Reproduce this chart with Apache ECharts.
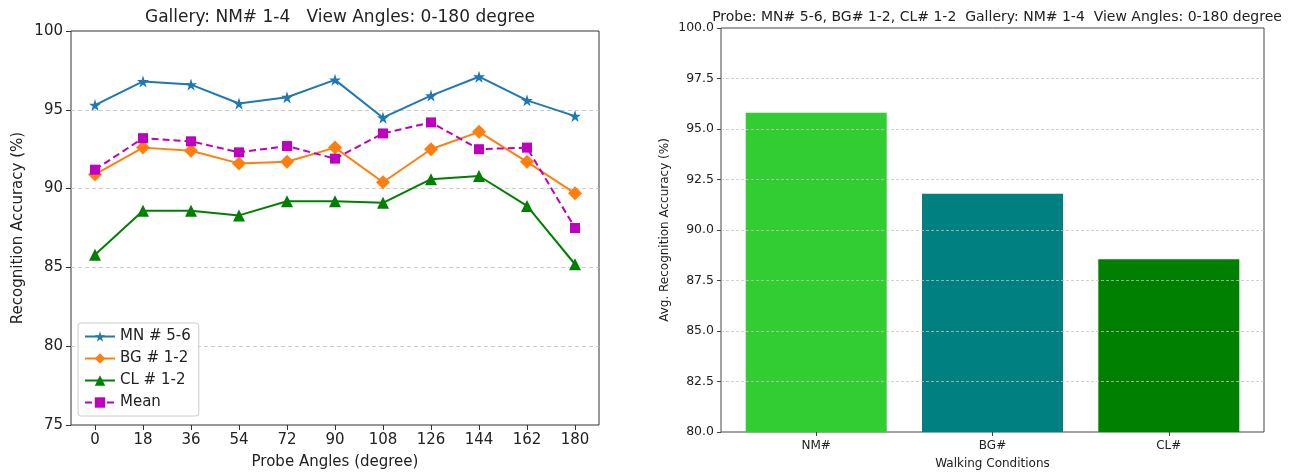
<!DOCTYPE html>
<html>
<head>
<meta charset="utf-8">
<script src="https://cdn.jsdelivr.net/npm/echarts@6/dist/echarts.min.js"></script>
<style>
  html, body { margin: 0; padding: 0; background: #fff; }
  #chart { width: 1303px; height: 475px; }
</style>
</head>
<body>
<div id="chart"></div>
<script>
// left panel: accuracy per probe angle
const angles = [0, 18, 36, 54, 72, 90, 108, 126, 144, 162, 180];
const mnVals = [95.3, 96.8, 96.6, 95.4, 95.8, 96.9, 94.5, 95.9, 97.1, 95.6, 94.6];
const bgVals = [90.9, 92.6, 92.4, 91.6, 91.7, 92.6, 90.4, 92.5, 93.6, 91.7, 89.7];
const clVals = [85.8, 88.6, 88.6, 88.3, 89.2, 89.2, 89.1, 90.6, 90.8, 88.9, 85.2];
const meanVals = [91.2, 93.2, 93.0, 92.3, 92.7, 91.9, 93.5, 94.2, 92.5, 92.6, 87.5];

// right panel: average per walking condition
const conditions = ['NM#', 'BG#', 'CL#'];
const avgVals = [95.8, 91.8, 88.55];
const barColors = ['#32cd32', '#008080', '#008000'];
const barTicks = [82.5, 85, 87.5, 90, 92.5, 95, 97.5];

const font = 'DejaVu Sans';
const star = 'path://M50,0 L61,35 L98,35 L68,57 L79,91 L50,70 L21,91 L32,57 L2,35 L39,35 Z';

const chart = echarts.init(document.getElementById('chart'));

function pairs(vals) {
    return angles.map((a, i) => [a, vals[i]]);
}

function lineSeries(name, vals, color, symbol, size, dashed) {
    return {
        type: 'line',
        name: name,
        xAxisIndex: 0,
        yAxisIndex: 0,
        data: pairs(vals),
        symbol: symbol,
        symbolSize: size,
        showAllSymbol: true,
        lineStyle: { color: color, width: 2, type: dashed ? [7, 4] : 'solid' },
        itemStyle: { color: color, borderWidth: 0 },
        emphasis: { disabled: true },
        z: 3
    };
}

const option = {
    backgroundColor: '#fff',
    animation: false,
    textStyle: { fontFamily: font },
    title: [
        {
            text: 'Gallery: NM# 1-4   View Angles: 0-180 degree',
            left: 335, top: 4, textAlign: 'center',
            textStyle: { fontFamily: font, fontSize: 17, fontWeight: 'normal', color: '#222' }
        },
        {
            text: 'Probe: MN# 5-6, BG# 1-2, CL# 1-2  Gallery: NM# 1-4  View Angles: 0-180 degree',
            left: 992, top: 5, textAlign: 'center',
            textStyle: { fontFamily: font, fontSize: 14, fontWeight: 'normal', color: '#222' }
        }
    ],
    legend: {
        data: ['MN # 5-6', 'BG # 1-2', 'CL # 1-2', 'Mean'],
        orient: 'vertical',
        left: 78, top: 323,
        itemWidth: 30, itemHeight: 13, itemGap: 7,
        padding: [6, 8, 6, 6],
        borderColor: '#ccc', borderWidth: 1, borderRadius: 3,
        backgroundColor: 'rgba(255,255,255,0.85)',
        textStyle: { fontFamily: font, fontSize: 15, color: '#222' }
    },
    grid: [
        { left: 71, top: 31, right: 704, bottom: 48, show: true, borderColor: '#333', borderWidth: 1, backgroundColor: 'transparent' },
        { left: 721, top: 28, right: 39, bottom: 42, show: true, borderColor: '#444', borderWidth: 1, backgroundColor: 'transparent' }
    ],
    xAxis: [
        {
            type: 'value', gridIndex: 0, min: -9, max: 189,
            name: 'Probe Angles (degree)', nameLocation: 'middle', nameGap: 30,
            nameTextStyle: { fontFamily: font, fontSize: 15, color: '#222' },
            axisLine: { show: false, onZero: false },
            axisTick: { show: true, length: 5, customValues: angles, lineStyle: { color: '#333' } },
            axisLabel: { customValues: angles, fontSize: 15, color: '#222', margin: 8 },
            splitLine: { show: false }
        },
        {
            type: 'value', gridIndex: 1, min: -0.54, max: 2.54,
            name: 'Walking Conditions', nameLocation: 'middle', nameGap: 26,
            nameTextStyle: { fontFamily: font, fontSize: 12, color: '#222' },
            axisLine: { show: false, onZero: false },
            axisTick: { show: true, length: 4, customValues: [0, 1, 2], lineStyle: { color: '#444' } },
            axisLabel: { customValues: [0, 1, 2], fontSize: 12, color: '#222', margin: 8,
                formatter: v => conditions[Math.round(v)] },
            splitLine: { show: false }
        }
    ],
    yAxis: [
        {
            type: 'value', gridIndex: 0, min: 75, max: 100, interval: 5,
            name: 'Recognition Accuracy (%)', nameLocation: 'middle', nameGap: 45,
            nameTextStyle: { fontFamily: font, fontSize: 15, color: '#222' },
            axisLine: { show: false, onZero: false },
            axisTick: { show: true, length: 5, lineStyle: { color: '#333' } },
            axisLabel: { fontSize: 15, color: '#222', margin: 8 },
            splitLine: { show: true, showMinLine: false, showMaxLine: false,
                lineStyle: { color: '#ccc', type: [4, 3], width: 1 } }
        },
        {
            type: 'value', gridIndex: 1, min: 80, max: 100, interval: 2.5,
            name: 'Avg. Recognition Accuracy (%)', nameLocation: 'middle', nameGap: 50,
            nameTextStyle: { fontFamily: font, fontSize: 12, color: '#222' },
            axisLine: { show: false, onZero: false },
            axisTick: { show: true, length: 4, lineStyle: { color: '#444' } },
            axisLabel: { fontSize: 12.5, color: '#222', margin: 7,
                formatter: v => v.toFixed(1) },
            splitLine: { show: false }
        }
    ],
    series: [
        lineSeries('MN # 5-6', mnVals, '#1f77b4', star, 12, false),
        lineSeries('BG # 1-2', bgVals, '#ff7f0e', 'diamond', 14, false),
        lineSeries('CL # 1-2', clVals, '#008000', 'triangle', 12, false),
        lineSeries('Mean', meanVals, '#bf00bf', 'rect', 10, true),
        {
            type: 'bar',
            xAxisIndex: 1,
            yAxisIndex: 1,
            barWidth: 141,
            data: avgVals.map((v, i) => ({
                value: [i, v],
                itemStyle: { color: barColors[i] }
            })),
            emphasis: { disabled: true },
            z: 2,
            // y grid drawn over the bars, as in the reference
            markLine: {
                silent: true,
                symbol: 'none',
                label: { show: false },
                lineStyle: { color: 'rgba(195,195,195,0.75)', type: [3, 2], width: 1 },
                data: barTicks.map(t => ({ yAxis: t }))
            }
        }
    ]
};

chart.setOption(option);
</script>
</body>
</html>
